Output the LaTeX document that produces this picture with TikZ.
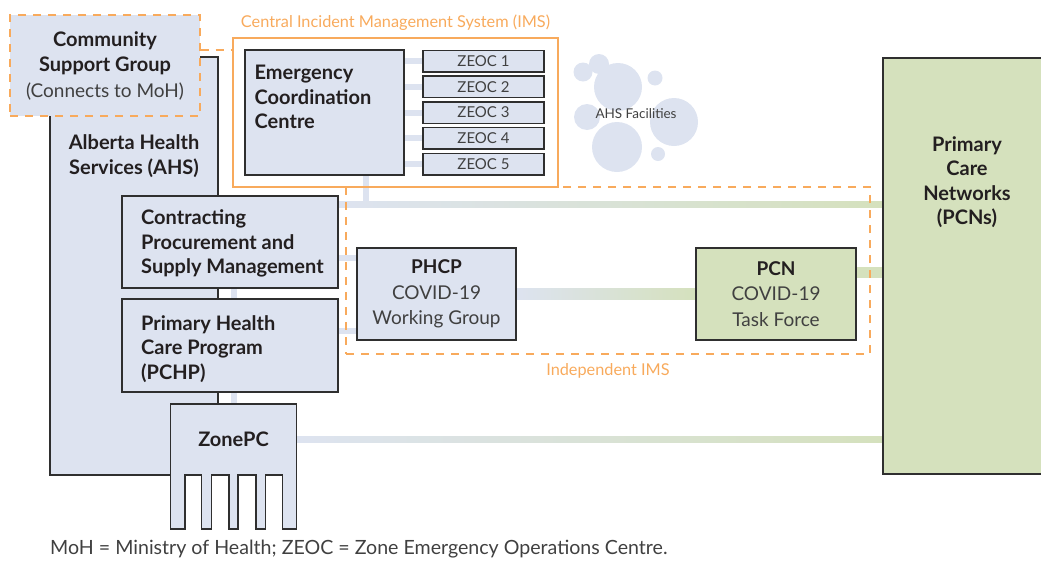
\documentclass[tikz,border=0pt]{standalone}
\usepackage{fontspec}
\setmainfont{Lato}
\usepackage{xcolor}
\usepackage{tikz}
\usetikzlibrary{positioning,calc,backgrounds}
\definecolor{lavanda}{HTML}{DDE3F0}
\definecolor{verde}{HTML}{D5E1BD}
\definecolor{naranja}{HTML}{F8AA5C}
\definecolor{borde}{HTML}{2F2F2F}
\definecolor{tinta}{HTML}{231F20}
\definecolor{gris}{HTML}{404040}

\begin{document}
\begin{tikzpicture}[x=1pt, y=-1pt,
    caja/.style={draw=borde, line width=1.5pt, fill=lavanda, inner sep=0pt},
    cajaverde/.style={caja, fill=verde},
    marco/.style={draw=naranja, line width=1.3pt},
    marcodash/.style={marco, dash pattern=on 8pt off 7pt},
    enlace/.style={draw=lavanda, line width=6pt},
    grueso/.style={font=\fontsize{20}{24.5}\selectfont\bfseries, text=tinta},
    fino/.style={font=\fontsize{19}{25.5}\selectfont, text=gris},
    naranjatxt/.style={font=\fontsize{16.3}{19}\selectfont, text=naranja, inner sep=0pt}
  ]
  % Lienzo
  \useasboundingbox (0,0) rectangle (1041,560);

  % Alberta Health Services
  \node[caja, minimum width=168pt, minimum height=418pt] (AHS) at (134,266) {};
  \node[grueso, align=center] (AHStxt) at (134,156) {Alberta Health\\Services (AHS)};

  % Grupo de apoyo comunitario
  \node[caja, draw=naranja, line width=1.3pt, dash pattern=on 8pt off 7pt, minimum width=190pt, minimum height=101pt,
        align=center, font=\fontsize{19}{25.5}\selectfont, text=tinta] (CSG) at (105,65.5)
    {{\fontsize{20}{25.5}\selectfont\bfseries Community}\\{\fontsize{20}{25.5}\selectfont\bfseries Support Group}\\{\color{gris}(Connects to MoH)}};

  % IMS central
  \node[marco, minimum width=325pt, minimum height=149pt] (IMS) at (395.5,112.5) {};
  \node[naranjatxt, above=7pt of IMS] (IMStxt) {Central Incident Management System (IMS)};
  \draw[marcodash] (CSG.east |- 0,50) -- (IMS.west |- 0,50);

  % Centro de coordinación
  \node[caja, minimum width=159pt, minimum height=125pt] (ECC) at (324.5,112.5) {};
  \node[grueso, align=left, anchor=north west, inner sep=0pt] (ECCtxt) at (254.5,65) {Emergency\\Coordination\\Centre};

  % ZEOC
  \foreach \i in {1,...,5}
    \node[caja, minimum width=121pt, minimum height=21.5pt, font=\fontsize{15}{18}\selectfont, text=gris]
      (Z\i) at (483.5,{61+(\i-1)*25.75}) {ZEOC \i};

  % Burbujas
  \foreach \cx/\cy/\rad in {583/72/9.5, 599/64/10, 618/87/24, 655/78/7.5, 587/117/13, 674/122/24, 617/147/25, 658/154/7}
    \fill[lavanda] (\cx,\cy) circle[radius=\rad];
  \node[font=\fontsize{13.5}{15}\selectfont, text=gris] (AHSF) at (636,114) {AHS Facilities};

  % IMS independiente
  \node[marcodash, minimum width=524pt, minimum height=167pt] (IND) at (608,270.5) {};
  \node[naranjatxt, below=9pt of IND] (INDtxt) {Independent IMS};

  % Contratación
  \node[caja, minimum width=216pt, minimum height=92pt] (CPSM) at (230,242) {};
  \node[grueso, align=left, anchor=north west, inner sep=0pt] (CPSMtxt) at (141,209.5)
    {Contracting\\Procurement and\\Supply Management};

  % Programa de atención primaria
  \node[caja, minimum width=216pt, minimum height=93pt] (PHCPr) at (230,345.5) {};
  \node[grueso, align=left, anchor=north west, inner sep=0pt] (PHCPrtxt) at (141,315)
    {Primary Health\\Care Program\\(PCHP)};

  % Grupo de trabajo
  \node[caja, fino, align=center, minimum width=159pt, minimum height=92pt] (WG) at (436.5,294)
    {\textbf{\color{tinta}PHCP}\\COVID-19\\Working Group};

  % Fuerza de tarea
  \node[cajaverde, fino, align=center, minimum width=160pt, minimum height=92pt] (PCN) at (776,294)
    {\textbf{\color{tinta}PCN}\\COVID-19\\Task Force};

  % Redes de atención primaria
  \node[cajaverde, minimum width=170pt, minimum height=416pt] (PCNs) at (968,266) {};
  \node[grueso, align=center] (PCNstxt) at (967,182) {Primary\\Care\\Networks\\(PCNs)};

  % ZonePC con peine
  \path[caja] (170.5,404) -- (296.5,404) -- (296.5,529) -- (282.5,529) -- (282.5,475) -- (265.5,475)
    -- (265.5,529) -- (256,529) -- (256,475) -- (238,475) -- (238,529) -- (229,529) -- (229,475)
    -- (211.5,475) -- (211.5,529) -- (201.5,529) -- (201.5,475) -- (185,475) -- (185,529) -- (170.5,529) -- cycle;
  \node[grueso, inner sep=0pt, minimum width=126pt, minimum height=71pt] (ZonePC) at (233.5,439.5) {ZonePC};

  % Nota al pie
  \node[font=\fontsize{19.6}{22}\selectfont, text=gris, anchor=west, inner sep=0pt] (nota) at (50,549)
    {MoH = Ministry of Health; ZEOC = Zone Emergency Operations Centre.};

  % Enlaces por debajo de las cajas
  \begin{scope}[on background layer]
    \foreach \i in {1,...,5}
      \draw[enlace] (ECC.east |- Z\i.west) -- (Z\i.west);
    \coordinate (cruce) at (366,204);
    \draw[enlace] (ECC.south -| cruce) -- (cruce);
    \coordinate (c1) at (CPSM.east |- cruce);
    \coordinate (c2) at (PCNs.west |- cruce);
    \shade[left color=lavanda, right color=verde] ([yshift=3pt]c1) rectangle ([yshift=-3pt]c2);
    \draw[enlace] (CPSM.south -| ZonePC.north) -- (ZonePC.north);
    \coordinate (wg1) at ([yshift=-11pt]WG.north west);
    \draw[enlace] (CPSM.east |- wg1) -- (wg1);
    \coordinate (wg2) at ([yshift=10pt]WG.south west);
    \draw[enlace] (PHCPr.east |- wg2) -- (wg2);
    \shade[left color=lavanda, right color=verde] ([yshift=5.5pt]WG.east) rectangle ([yshift=-5.5pt]PCN.west);
    \coordinate (pcn1) at ([yshift=-25pt]PCN.north east);
    \draw[draw=verde, line width=11pt] (pcn1) -- (PCNs.west |- pcn1);
    \coordinate (zp) at (PCNs.west |- ZonePC.east);
    \shade[left color=lavanda, right color=verde] ([yshift=3pt]ZonePC.east) rectangle ([yshift=-3pt]zp);
  \end{scope}
\end{tikzpicture}
\end{document}
